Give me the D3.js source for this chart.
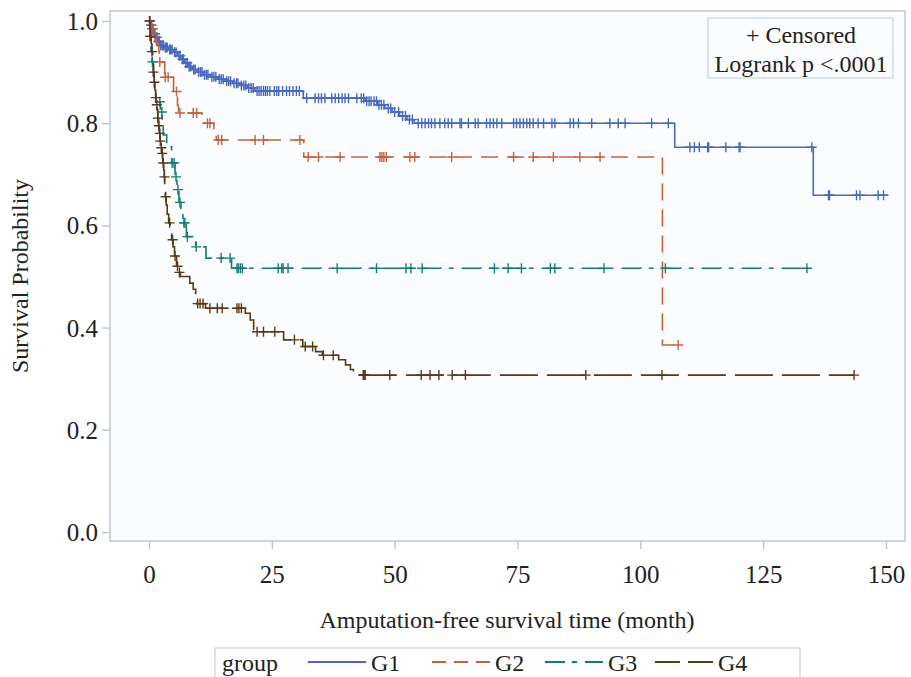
<!DOCTYPE html>
<html>
<head>
<meta charset="utf-8">
<script src="https://cdn.jsdelivr.net/npm/d3@7"></script>
<style>
  html, body { margin: 0; padding: 0; background: #fff; }
  svg { display: block; font-family: "Liberation Serif", "Times New Roman", serif; }
  svg text { font-family: "Liberation Serif", "Times New Roman", serif; }
</style>
</head>
<body>
<svg id="chart"></svg>
<script>
const width = 911;
const height = 677;

const groups = ["G1", "G2", "G3", "G4"];
const xTicks = [0, 25, 50, 75, 100, 125, 150];
const yTicks = [0, 0.2, 0.4, 0.6, 0.8, 1.0];

// step points [time, survival]
const g1Steps = [[0, 1], [0.3, 0.992], [0.6, 0.985], [0.9, 0.975], [1.3, 0.968], [1.8, 0.96],
  [2.3, 0.952], [3, 0.948], [4, 0.944], [5, 0.939], [5.8, 0.932], [6.5, 0.925], [7.2, 0.918],
  [8, 0.911], [8.8, 0.905], [9.8, 0.9], [11, 0.895], [12.5, 0.891], [14, 0.886], [15.5, 0.882],
  [17, 0.878], [18.5, 0.874], [20, 0.869], [21.5, 0.863], [31.4, 0.849], [44, 0.843],
  [46.5, 0.836], [48, 0.829], [49.5, 0.822], [51, 0.814], [52.5, 0.807], [54, 0.8],
  [107, 0.753], [135.2, 0.659], [150.4, 0.659]];
const g2Steps = [[0, 1], [0.5, 0.985], [1, 0.97], [1.5, 0.955], [2, 0.94], [2.1, 0.92],
  [3.2, 0.89], [5, 0.862], [5.8, 0.835], [6, 0.82], [10.8, 0.8], [13.2, 0.78], [13.7, 0.767],
  [31.5, 0.734], [104.5, 0.366], [107.7, 0.366]];
const g3Steps = [[0, 1], [0.2, 0.97], [0.4, 0.94], [0.6, 0.92], [0.9, 0.89], [1.1, 0.865],
  [1.4, 0.842], [2.3, 0.822], [2.7, 0.8], [2.9, 0.777], [3.6, 0.754], [4.6, 0.722],
  [5.3, 0.695], [5.7, 0.67], [6.1, 0.645], [6.5, 0.627], [6.9, 0.605], [7.6, 0.578],
  [9.5, 0.558], [11.6, 0.536], [16.8, 0.516], [133.9, 0.516]];
const g4Steps = [[0, 1], [0.15, 0.985], [0.3, 0.97], [0.45, 0.955], [0.6, 0.94], [0.75, 0.92],
  [0.9, 0.9], [1.05, 0.88], [1.2, 0.865], [1.35, 0.85], [1.5, 0.836], [1.65, 0.826],
  [1.8, 0.81], [1.95, 0.795], [2.1, 0.78], [2.25, 0.765], [2.4, 0.752], [2.6, 0.741],
  [2.8, 0.722], [3, 0.708], [3.1, 0.695], [3.2, 0.675], [3.3, 0.656], [3.5, 0.64],
  [3.7, 0.622], [4, 0.605], [4.3, 0.585], [4.6, 0.572], [4.9, 0.558], [5.2, 0.54],
  [5.6, 0.52], [6, 0.508], [6.4, 0.5], [8.3, 0.487], [9, 0.475], [9.5, 0.463], [9.8, 0.447],
  [11.5, 0.438], [19.6, 0.428], [20.6, 0.415], [21.3, 0.392], [27.4, 0.376], [31.3, 0.363],
  [33.9, 0.353], [35.3, 0.346], [38.6, 0.337], [40, 0.327], [41, 0.318], [41.6, 0.307],
  [143.5, 0.307]];

// censored times
const g1Censor = [0.2, 0.4, 0.5, 0.7, 0.8, 1.1, 1.2, 1.4, 1.6, 1.9, 2.1, 2.4, 2.7, 2.9, 3.3, 3.5,
  3.7, 4.2, 4.4, 4.7, 5.2, 5.5, 6.1, 6.3, 6.8, 7.0, 7.5, 7.8, 8.2, 8.5, 9.1, 9.4, 10.1, 10.5,
  10.8, 11.3, 11.7, 12.0, 12.8, 13.2, 13.6, 14.3, 14.7, 15.1, 15.8, 16.2, 16.6, 17.3, 17.8,
  18.1, 18.8, 19.3, 19.7, 20.3, 20.8, 21.2, 22.0, 22.4, 22.8, 23.3, 23.7, 24.1, 24.6, 25.5,
  26.0, 26.4, 27.2, 28.0, 28.6, 29.3, 30.0, 30.6, 32.1, 33.8, 34.5, 35.1, 35.8, 37.2, 37.9,
  38.6, 39.3, 39.9, 40.6, 42.3, 43.2, 43.7, 44.3, 44.8, 45.2, 45.8, 46.3, 46.8, 47.3, 47.8,
  48.7, 49.2, 50.0, 50.8, 51.6, 52.2, 53.0, 53.6, 54.8, 55.5, 56.2, 56.9, 57.5, 58.2, 59.2,
  60.2, 60.9, 61.6, 63.3, 63.6, 65.0, 66.4, 67.0, 68.7, 69.4, 70.1, 70.8, 71.8, 74.2, 74.8,
  75.5, 76.2, 76.9, 77.5, 78.2, 79.2, 80.3, 82.0, 82.6, 85.7, 86.4, 87.4, 90.1, 93.8, 95.5,
  96.9, 102.3, 105.7, 110.1, 111.0, 112.0, 113.7, 113.9, 117.4, 120.1, 120.3, 134.9, 138.3,
  138.5, 144.0, 144.7, 148.4, 149.5];
const g2Censor = [0.2, 0.6, 1.2, 2.2, 3.3, 3.9, 5.6, 6.3, 9.0, 9.7, 11.9, 12.4, 14.1, 14.8,
  21.6, 23.3, 30.7, 32.4, 34.5, 38.9, 47.0, 47.4, 47.8, 48.3, 53.1, 54.1, 61.6, 74.2, 78.2,
  82.3, 87.7, 91.8, 107.7];
const g3Censor = [0.2, 0.7, 2.2, 2.6, 4.7, 5.1, 5.5, 5.9, 6.3, 7.1, 7.3, 7.8, 9.6, 14.7, 16.5,
  17.9, 18.2, 18.6, 19.0, 26.3, 27.0, 27.3, 28.3, 38.3, 46.3, 52.3, 53.3, 55.6, 70.3, 73.1,
  75.8, 81.7, 82.6, 92.6, 105.1, 133.9];
const g4Censor = [0.1, 0.3, 0.6, 0.9, 1.1, 1.4, 1.6, 1.8, 2.0, 2.2, 2.3, 2.5, 2.7, 2.9, 3.15,
  3.4, 4.2, 4.8, 5.3, 5.8, 6.2, 9.9, 10.4, 11.0, 12.4, 13.9, 14.9, 17.9, 18.3, 18.8, 22.0,
  23.3, 25.6, 29.6, 31.8, 33.3, 35.5, 37.5, 43.6, 43.8, 44.0, 49.0, 55.4, 57.2, 59.0, 61.7,
  64.4, 88.9, 104.4, 143.5];

const colors = ["#4868bc", "#c3613f", "#167a74", "#5b3816"];
const dashes = ["none", "17,9", "20,7,5,8", "38,9"];
const legendDashes = ["none", "14,8", "20,7,5,8", "25,8"];

const series = [
  { name: groups[0], steps: g1Steps, censor: g1Censor },
  { name: groups[1], steps: g2Steps, censor: g2Censor },
  { name: groups[2], steps: g3Steps, censor: g3Censor },
  { name: groups[3], steps: g4Steps, censor: g4Censor },
];

const svg = d3.select("#chart").attr("width", width).attr("height", height);

const frame = { left: 110, top: 11, right: 905, bottom: 541 };
const x = d3.scaleLinear().domain([0, 150]).range([149, 886]);
const y = d3.scaleLinear().domain([0, 1]).range([532, 21]);

const axisColor = "#b7c2ce";
const textColor = "#222";

svg.append("rect")
  .attr("x", frame.left).attr("y", frame.top)
  .attr("width", frame.right - frame.left).attr("height", frame.bottom - frame.top)
  .attr("fill", "#fbfcfe").attr("stroke", axisColor).attr("stroke-width", 1.3);

// axes
const yAxis = svg.append("g")
  .attr("transform", `translate(${frame.left},0)`)
  .call(d3.axisLeft(y).tickValues(yTicks).tickFormat(d3.format(".1f")).tickSize(8).tickPadding(4));
const xAxis = svg.append("g")
  .attr("transform", `translate(0,${frame.bottom})`)
  .call(d3.axisBottom(x).tickValues(xTicks).tickSize(8).tickPadding(16));
for (const ax of [xAxis, yAxis]) {
  ax.attr("font-family", null).attr("font-size", null);
  ax.select(".domain").remove();
  ax.selectAll(".tick line").attr("stroke", axisColor).attr("stroke-width", 1.3);
  ax.selectAll(".tick text")
    .attr("fill", textColor)
    .style("font-size", "25px");
}
yAxis.selectAll(".tick text").attr("dy", "0.34em");

svg.append("text")
  .attr("x", 507).attr("y", 628)
  .attr("text-anchor", "middle")
  .style("font-size", "24px").attr("fill", textColor)
  .text("Amputation-free survival time (month)");

svg.append("text")
  .attr("transform", "translate(28,276) rotate(-90)")
  .attr("text-anchor", "middle")
  .style("font-size", "24px").attr("fill", textColor)
  .text("Survival Probability");

// curves
const line = d3.line()
  .x((d) => x(d[0]))
  .y((d) => y(d[1]))
  .curve(d3.curveStepAfter);

function survAt(steps, t) {
  let s = steps[0][1];
  for (const p of steps) {
    if (p[0] <= t) s = p[1];
  }
  return s;
}

const plot = svg.append("g");
const arm = 5;

series.forEach((sr, i) => {
  const g = plot.append("g");
  g.append("path")
    .attr("d", line(sr.steps))
    .attr("fill", "none")
    .attr("stroke", colors[i])
    .attr("stroke-width", 1.6)
    .attr("stroke-dasharray", dashes[i]);

  g.selectAll("path.cens")
    .data(sr.censor)
    .join("path")
    .attr("class", "cens")
    .attr("d", (t) => {
      const cx = x(t);
      const cy = y(survAt(sr.steps, t));
      return `M${cx - arm},${cy}H${cx + arm}M${cx},${cy - arm}V${cy + arm}`;
    })
    .attr("stroke", colors[i])
    .attr("stroke-width", 1.4)
    .attr("fill", "none");
});

// inset box
svg.append("rect")
  .attr("x", 708).attr("y", 18).attr("width", 185).attr("height", 60)
  .attr("fill", "#fbfcfe").attr("stroke", "#c9d5de").attr("stroke-width", 1.2);
svg.append("text")
  .attr("x", 801).attr("y", 43).attr("text-anchor", "middle")
  .style("font-size", "24px").attr("fill", textColor)
  .text("+ Censored");
svg.append("text")
  .attr("x", 801).attr("y", 72).attr("text-anchor", "middle")
  .style("font-size", "24px").attr("fill", textColor)
  .text("Logrank p <.0001");

// legend
const legend = svg.append("g");
legend.append("rect")
  .attr("x", 215).attr("y", 648).attr("width", 585).attr("height", 40)
  .attr("fill", "#fff").attr("stroke", "#c8d0d8").attr("stroke-width", 1.2);
legend.append("text")
  .attr("x", 222).attr("y", 671)
  .style("font-size", "24px").attr("fill", textColor)
  .text("group");

const legendX = [308, 432, 545, 655];
groups.forEach((name, i) => {
  legend.append("line")
    .attr("x1", legendX[i]).attr("x2", legendX[i] + 58)
    .attr("y1", 662).attr("y2", 662)
    .attr("stroke", colors[i]).attr("stroke-width", 1.8)
    .attr("stroke-dasharray", legendDashes[i]);
  legend.append("text")
    .attr("x", legendX[i] + 63).attr("y", 671)
    .style("font-size", "24px").attr("fill", textColor)
    .text(name);
});
</script>
</body>
</html>
